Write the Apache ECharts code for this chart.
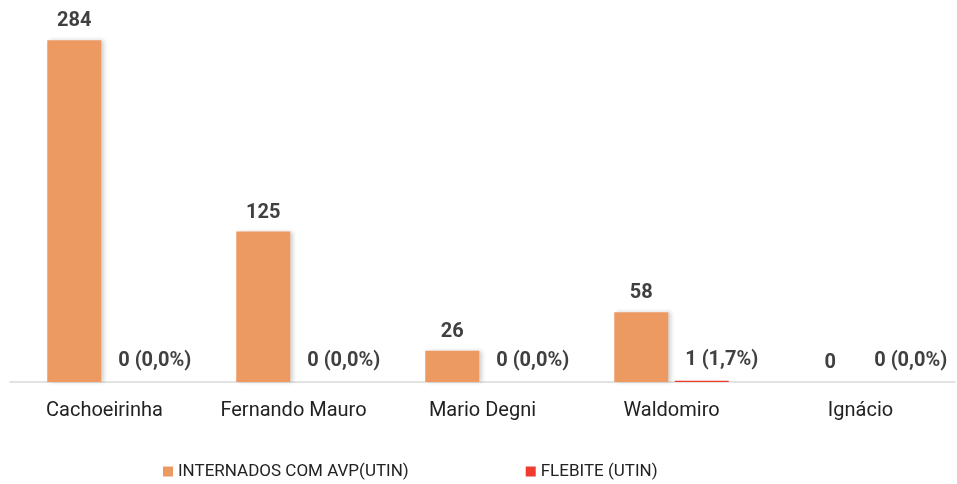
<!DOCTYPE html>
<html>
<head>
<meta charset="utf-8">
<script src="https://cdn.jsdelivr.net/npm/echarts@6/dist/echarts.min.js"></script>
<style>
  html, body { margin: 0; padding: 0; background: #fff; }
  #chart { width: 957px; height: 484px; }
</style>
</head>
<body>
<div id="chart"></div>
<script>
// dados
const categories = ['Cachoeirinha', 'Fernando Mauro', 'Mario Degni', 'Waldomiro', 'Ignácio']
const internados = [284, 125, 26, 58, 0]
const flebite = [0, 0, 0, 1, 0]
const flebitePct = ['0,0%', '0,0%', '0,0%', '1,7%', '0,0%']

const chart = echarts.init(document.getElementById('chart'))

const shadow = {
  shadowColor: 'rgba(0,0,0,0.18)',
  shadowBlur: 4,
  shadowOffsetX: 3,
  shadowOffsetY: 0
}

chart.setOption({
  animation: false,
  textStyle: { fontFamily: 'Roboto' },
  grid: { left: 10, right: 2, top: 21, bottom: 102 },
  legend: {
    left: 158,
    top: 458,
    itemWidth: 10,
    itemHeight: 10,
    itemGap: 117,
    icon: 'rect',
    textStyle: { fontSize: 17, color: '#222' },
    data: ['INTERNADOS COM AVP(UTIN)', 'FLEBITE (UTIN)']
  },
  xAxis: {
    type: 'category',
    data: categories,
    axisTick: { show: false },
    axisLine: { lineStyle: { color: '#d9d9d9', width: 1.5 } },
    axisLabel: { fontSize: 20, color: '#222', margin: 19, interval: 0, hideOverlap: false }
  },
  yAxis: {
    type: 'value',
    min: 0,
    max: 300,
    show: false,
    splitLine: { show: false }
  },
  series: [
    {
      name: 'INTERNADOS COM AVP(UTIN)',
      type: 'bar',
      data: internados,
      barWidth: 54,
      barGap: '12%',
      itemStyle: Object.assign({ color: '#ED9A62' }, shadow),
      label: {
        show: true,
        position: 'top',
        distance: 9,
        fontSize: 20,
        fontWeight: 'bold',
        color: '#404040'
      }
    },
    {
      name: 'FLEBITE (UTIN)',
      type: 'bar',
      data: flebite,
      barWidth: 54,
      itemStyle: { color: '#EE3B2E' },
      label: {
        show: true,
        position: 'top',
        distance: 11,
        offset: [20, 0],
        fontSize: 20,
        fontWeight: 'bold',
        color: '#404040',
        formatter: p => p.value + ' (' + flebitePct[p.dataIndex] + ')'
      }
    }
  ]
})
</script>
</body>
</html>
